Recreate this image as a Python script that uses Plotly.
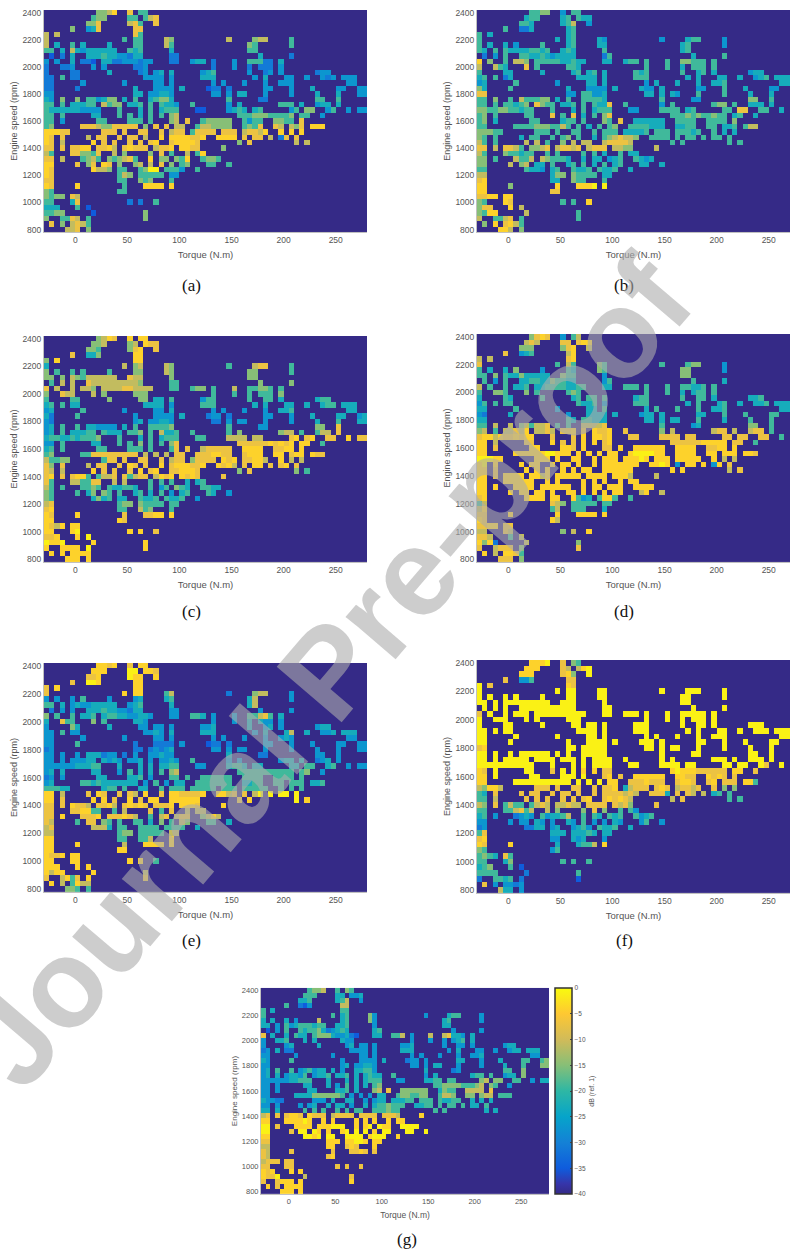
import plotly.graph_objects as go

torque = [-27.5 + 5 * i for i in range(62)]
speed = [2400 - 40 * i for i in range(41)]
level_db = {"1": -35, "2": -31, "3": -27, "4": -23, "5": -19, "6": -15, "7": -11, "8": -7, "9": -4, "0": -1}

# Occupied torque bins for each speed row (top row = 2400 rpm), all other cells sit at -40 dB
occupied = [
"10-13 16 18-19", "9-11 16-17 19-21", "8-10 16-18 21", "5 8-10 17-18", "0 2 17-18",
"0 15 17-18 23-24 35 40-42 47", "0 2 5 7 12 17-18 23-24 39-40 47", "0-1 3 5-6 7-13 16-18 24 39-40",
"1 3 5 8-18 24-25 41 47", "0 2 5 7-9 11-14 15-20 24-25 28-30 32 36 39-43 45",
"0 3-5 9 11 17-19 32 36 39 41-43 45", "0 5-6 12 18-19 21 22 24 30 31-32 39 42-43 45 52-54",
"0-1 3 5-6 19-22 24 30-32 40 42 46-47 50 53-55 57-59", "0-1 7 15 21-22 24 32 34 38 42 45-47 58-59",
"0-1 6 17 21-24 26 31-33 35 42-43 47 51 56-57 60-61", "0-1 17-18 20-24 32-33 35 37-38 42 47 52 56 60-61",
"0-1 3 6 8-13 15 17 20-24 35 41-42 52-53 56", "0-1 3 5-9 11-14 16-18 20 22-25 28 35 37 45-47 49 52-54 56",
"0-10 14 18 20 22-25 29-30 35-38 40-41 47-48 50-51 54-55 58 60-61", "0-1 3 9-10 14 16 18 20 22 24-25 37-47 49-50 53",
"0-1 3 10-11 16-18 20 24-25 27 30-35 38-41 44-47 49", "0-1 7-17 19 21 23 25-26 29-35 38-41 44-45 47-49 51-53",
"0-4 11-13 15 18-19 22 24-26 28-32 34-36 38-42 45 47 49", "0-1 3 8 10-11 14 16-17 19 22 24-30 33-36 38 40-41 43 45 46 48",
"0-1 3 9 11 13 16 18 20-21 24-29 37 39 48 50", "0-1 3 5-8 10-13 15-19 21-24 26-29 34",
"0-1 5-10 13 15 20 22 24 27 29-30", "0-1 3 7-10 12-17 20 22-23 25-27 30-33", "0-1 6 8-9 11-12 14 17-18 20 22 24 26-27 31-32 35",
"0-1 9-12 14-15 18-21 23-26 29", "0-1 14-16 18-22 24-25", "0-1 14 15 18-20 24", "0-1 6 15 19-22 24", "0-1 14-15", "0-3 5-6",
"0-1 5-6 16 18 21", "0-2 6 8", "0-3 9 19", "0 3-6 8 19", "1 3 5-8", "4-6 8",
]

panel_a = [
"6679 8 55", "566 55 578", "668 785 8", "6 348 88", "7 7 85", "7 5 55 76 7 677 5", "7 4 5 4 4 55 75 65 5",
"55 4 74 3444444 545 4 55", "1 2 4 44454433244 22 4 2", "3 3 4 221 4422 333233 22 344 2 3 55522 4",
"2 223 3 3 223 2 3 2 222 3", "2 22 4 23 3 4 4 3 45 3 23 3 233", "22 5 22 3333 3 444 3 4 33 3 323 333",
"22 3 3 33 3 3 3 3 3 333 33", "22 2 4 3333 4 122 2 33 3 4 33 33", "33 44 33443 33 3 44 3 3 4 4 33",
"43 6 6 553466 4 5 45664 5 22 55 5", "55 5 44455 7566 445 5 5443 5 3 4 555 4 344 4",
"54444443333 5 4 5 4555 11 3454 45 35 66 35 3 33", "55 5 44 5 5 4 5 5 67 55566655556 55 3",
"55 3 55 555 5 67 8 566666 5355 6655 8", "56 88876688888 6 8 8 77 5776666 5658 87 768 999",
"99988 888 8 88 8 788 58888 888 78879 9 9", "98 8 7 88 8 88 7 9 9999889 9999 8 88 7 2 8 8",
"98 7 9 8 8 8 8 89 899998 6 8 7 7", "88 8 8899 8897 89888 7889 9988 6", "75 886658 7 6 6 8 5 7 5 9 5",
"88 7 5675 656785 9 66 659 5665", "99 8 68 98 6 67 7 8 6 56 55 5", "98 9776 55 5600 5553 5", "9 8 5 7 6 55555 33",
"8 8 5 5 6 5 6 5 5", "9 8 9 5 999 9 9", "6 5 5 5", "65 66 8 7 5 7", "5 5 4 8 2 2 5", "44 4 5 1", "5 5 6 6 1 6", "6 5 5 8 7 5 6", "8 6 7 8 7 5", "778 6",
]
panel_b = [
"5566 3 55", "455 45 544", "554 457 3", "5 224 45", "5 4 45", "5 4 45 43 3 455 3", "5 4 4 3 5 45 44 45 3",
"54 5 54 4445545 454 5 45", "2 3 5 55445434444 25 4 5", "9 6 5 776 5555 544544 44 455 5 5 66555 5",
"7 754 8 5 554 5 5 4 555 5", "5 44 4 45 4 5 4 5 45 5 45 4 344", "45 5 24 4444 4 555 4 4 44 4 345 444",
"34 5 3 44 4 3 4 4 4 445 44", "6 4 5 4 3333 4 433 4 33 5 4 33 33", "8 8 33 5533 44 4 44 3 5 5 44",
"55 6 5 755566 4 5 55554 5 33 66 5", "55 5 55456 8655 445 5 5448 5 3 5 566 5 444 4",
"66556655455 5 4 5 4555 33 5555 45 55 88 55 4 44", "56 5 55 8 5 8 4 5 68 55565655655 45 4",
"56 4 55 455 5 65 8 444444 5555 5555 6", "55 55556665575 5 4 5 56 5 5554444 4555 54 455 775",
"66655 555 5 55 5 555 44445 555 55545 5 4", "65 5 4 55 5 56 5 4 5678776 5555 5 55 5 5 5 5",
"75 5 7 7 5 6 7 77 788887 5 5 5 5", "88 7 8875 6678 78878 7888 7766 7", "75 655455 5 5 5 5 4 5 4 4 5 5",
"66 5 7557 765554 4 44 345 5434", "66 7 67 44 5 45 5 4 5 45 44 4", "55 5443 45 5445 5445 4", "7 7 4 6 6 65555 44",
"8 9 4 4 6 5 5 5 5", "9 9 6 9 999 0 0", "9 9 8 8", "88 99 9 9 9 7 9", "6 5 9 8 5 5 9", "68 8 9 7", "6 5 9 9 7 5", "7 5 5 7 8 5 5", "6 9 8 9 7 5", "997 6",
]
panel_c = [
"6798 9 99", "667 67 988", "665 689 8", "8 446 99", "6 9 99", "4 7 67 76 5 788 5", "6 5 5 5 5 66 76 66 5",
"66 6 76 5777777 877 6 66", "5 7 7 87777777776 55 6 6", "8 7 7 776 7777 887777 55 566 5 7 55665 5",
"6 877 7 6 666 5 5 5 555 6", "5 55 6 66 4 4 5 3 55 5 55 4 455", "45 5 44 4444 3 555 4 4 44 4 455 444",
"34 5 3 33 4 3 3 3 3 445 44", "4 2 5 3 3333 4 233 2 33 3 4 44 34", "32 34 33443 22 3 33 3 3 4 5 44",
"34 5 5 443333 4 5 55556 5 33 66 8", "34 5 44455 5444 556 5 7445 5 5 6 677 5 577 8",
"45544545556 5 4 5 4555 55 7777 77 89 89 88 9 88", "33 5 44 5 5 6 5 5 68 88888898989 99 5",
"45 5 55 555 5 58 8 788888 9999 8899 9", "56 55888888888 7 7 7 88 8889988 8999 99 899 988",
"75566 588 8 88 8 788 68888 989 88997 9 7", "86 8 7 88 8 98 8 9 8999889 9897 8 99 8 8 9 8",
"87 7 9 8 8 8 9 89 889998 6 8 6 5", "89 8 8995 5778 85788 7989 9898 8", "85 775588 7 7 5 5 5 4 4 5 5",
"75 5 5565 544554 5 35 654 5544", "65 5 46 65 5 45 4 5 3 45 54 3", "65 4645 44 5445 5445 3", "7 8 5 6 6 65555 55",
"8 9 5 5 7 5 6 5 5", "9 8 9 8 889 9 9", "9 9 9 8", "98 79 9 9 9 9 9", "9 9 9 0 9 9 8", "88 9 9 0", "09 9 0 9 9", "9 9 9 9 9 0 9", "9 9 9 9 9 9", "999 9",
]
panel_d = [
"6898 3 57", "787 88 899", "666 689 7", "8 345 79", "7 7 89", "8 5 75 65 5 566 3", "5 4 4 6 3 54 65 66 3",
"55 6 54 4644444 655 3 66", "5 3 5 44554465544 35 5 4", "7 5 5 445 4455 554455 44 555 5 5 55445 5",
"5 665 6 5 565 5 5 4 455 5", "4 54 5 45 5 5 5 4 55 5 55 4 445", "35 5 55 5445 3 555 4 5 45 4 445 444",
"44 5 3 44 5 4 5 5 5 445 44", "3 2 4 3 4444 4 344 4 44 5 5 55 45", "44 5 4 55444 44 4 44 5 4 5 5 44",
"55 7 7 675778 5 5 77778 5 34 66 5", "67 5 77879 7787 889 8 9889 8 6 7 788 7 788 5",
"89979889899 8 8 9 9989 88 8888 88 88 88 88 5 55", "99 7 88 9 8 8 9 9 89 88888899999 88 5",
"99 8 99 998 9 88 9 999999 9999 8899 9", "99 99999900999 9 9 9 99 9000099 9999 99 999 998",
"00099 999 9 99 9 999 99909 999 99999 9 7", "90 9 9 99 9 99 9 9 9999999 9909 3 99 9 3 9 8",
"99 8 9 9 9 9 9 99 999999 9 9 7 8", "99 8 9999 9979 99999 9999 9997 7", "99 999999 9 9 9 9 9 9 9 9 9",
"99 9 9999 999999 9 99 999 9999", "99 9 99 99 9 99 9 9 9 99 79 7", "89 9999 99 9534 5995 5", "5 7 8 7 6 55555 55",
"7 9 5 7 5 5 5 4 5", "8 8 9 9 999 9 9", "9 8 9 7", "88 99 8 8 9 8 9", "7 7 8 7 6 7 9", "88 7 5 7", "9 6 9 2 7 6", "8 7 8 8 8 6 8", "9 7 9 9 8 5", "888 6",
]
panel_e = [
"9989 8 99", "999 00 998", "889 099 9", "8 009 99", "8 9 99", "8 9 99 57 2 677 3", "3 3 3 5 3 34 45 47 3",
"55 4 34 3344444 345 4 47", "2 3 3 44454433244 33 3 3", "6 5 5 445 4554 433443 33 554 3 3 55785 4",
"4 855 6 5 443 3 3 4 433 3", "3 64 4 33 3 3 3 3 34 4 34 3 344", "33 5 33 3343 4 444 3 4 47 4 334 444",
"33 3 3 33 3 3 3 3 3 343 33", "3 3 5 2 2222 3 122 2 33 3 3 33 33", "23 22 23234 33 3 33 3 3 3 3 33",
"33 3 3 444233 2 3 33433 4 22 33 3", "33 3 33344 4343 334 3 3343 5 3 3 344 4 234 3",
"33333344455 4 4 4 4455 33 4554 44 44 55 45 3 33", "34 4 44 3 5 4 4 5 67 55555555555 56 3",
"23 3 44 445 3 55 5 555555 5555 5555 5", "34 55454444444 3 5 3 44 5555555 4455 55 555 445",
"55544 455 5 44 5 555 55555 555 55555 5 5", "99 7 8 9 8 88 7 9 8998888 999 7 88 7 0 0 0",
"99 8 9 9 8 9 8 99 999999 8 9 0 9", "88 8 9887 8897 89898 8889 9998 9", "88 889955 5 7 8 5 8 7 7 7 5",
"88 9 8889 888987 5 7 8 7 8 86 7 9 7 7", "87 5 88 65 5 55 4 6 5 76 55 4", "78 7774 55 5555 5555 4", "7 7 5 6 6 55555 77",
"9 9 5 5 5 5 7 9", "9 9 9 7 9 9 9 9", "9 9 9 9", "98 89 9 9 9 5 4", "9 9 9 9 9 9 5", "99 9 9 9", "9 7 9 9 9 7", "8 7 9 5 8 9 8", "9 7 5 9 7 7", "665 5",
]
panel_f = [
"9990 8 65", "999 87 790", "999 896 0", "8 335 88", "0 8 98", "0 0 00 00 0 000 0", "0 0 0 0 0 00 00 00 0",
"00 0 00 0000000 000 0 00", "0 0 0 00000000000 00 0 0", "8 0 0 000 0000 000000 00 000 0 0 00000 0",
"0 000 0 0 000 0 0 0 000 0", "0 00 0 00 0 0 0 0 00 0 00 0 000", "00 0 00 0000 0 000 0 0 00 0 000 000",
"00 0 0 00 0 0 0 0 0 000 00", "0 0 0 0 0000 0 000 0 00 0 0 00 00", "89 00 00000 00 0 00 0 0 0 0 00",
"00 0 0 000000 0 0 00000 0 00 00 0", "00 0 00000 0000 000 0 0000 0 0 0 000 0 000 0",
"00000000000 0 0 0 0000 00 0000 00 00 00 08 0 00", "98 0 00 8 0 0 9 9 88 90999888888 99 8",
"99 0 00 000 0 89 8 999999 9988 9898 8", "99 00000000000 0 0 0 99 8889888 8998 89 888 995",
"76997 888 8 88 8 889 47888 898 78878 8 6", "54 8 8 88 8 88 8 8 8888787 8884 8 87 7 4 5 5",
"55 7 8 8 8 8 8 89 898987 7 8 5 5", "76 8 5755 5787 77877 8888 8786 8", "55 557857 7 6 6 8 6 5 5 3 3",
"45 3 2343 534457 5 54 545 5345", "33 3 33 43 3 43 5 3 3 43 35 3", "23 2 2443 43 4535 4454 3", "5 8 4 4 4 44454 44",
"8 9 3 3 4 3 4 3 3", "9 8 9 4 455 7 9", "6 5 3 5", "56 54 8 5 5 5 5", "5 5 4 6 5 5 5", "45 6 5 1", "5 5 5 5 2 5", "2 5 5 4 5 2 1", "8 3 3 3 2 3", "744 3",
]
panel_g = [
"5667 5 65", "555 44 334", "445 457 3", "5 213 77", "5 4 55", "5 5 45 63 3 455 3", "4 4 4 3 7 45 63 45 3",
"44 3 53 4555455 445 3 44", "1 3 5 54556423454 45 3 3", "8 4 4 544 5666 433421 44 557 3 7 78443 4",
"3 445 4 4 433 3 3 3 345 4", "3 34 4 34 3 3 3 3 34 3 33 3 344", "23 4 22 3333 3 444 3 4 33 3 344 444",
"33 3 3 33 3 3 3 3 3 334 33", "4 3 5 3 3333 4 233 3 44 3 4 55 56", "33 34 33443 33 3 44 3 3 4 5 66",
"34 5 5 345344 4 3 44553 4 23 55 6", "34 4 34435 3445 445 4 4544 5 3 4 455 5 344 6",
"33333344555 4 4 4 4555 33 4455 55 67 66 55 3 44", "33 3 44 4 3 5 4 4 56 55666655567 65 3",
"33 3 44 445 4 67 8 666666 4655 7777 8", "33 44446666665 3 3 3 44 5665566 5776 66 677 555",
"43322 333 4 44 3 344 44455 555 54455 4 4", "33 3 3 34 4 44 3 4 4556555 4455 5 55 5 4 4 5",
"44 4 5 5 5 5 5 55 555655 5 5 4 4", "78 8 8998 9888 78888 8888 8887 9", "99 99990 9 9 9 9 9 9 9 9 9",
"00 8 9999 999000 9 90 09 9 0000", "00 8 00 09 9 90 0 0 9 00 00 0", "99 0090 00 0000 9000 9", "8 8 9 9 9 99009 99",
"7 7 9 9 8 9 8 9 9", "8 7 8 8 889 8 8", "8 7 8 9", "78 88 8 8 8 8 9", "8 8 8 8 8 8 8", "98 9 9 9", "98 8 0 7 8", "8 8 9 9 9 9 9", "9 8 9 9 9 9", "999 9",
]

parula = [[0.0, "rgb(53,42,135)"], [0.05, "rgb(54,53,170)"], [0.125, "rgb(15,92,221)"], [0.25, "rgb(20,129,214)"],
          [0.375, "rgb(6,164,202)"], [0.5, "rgb(46,183,164)"], [0.625, "rgb(135,191,119)"], [0.75, "rgb(209,187,89)"],
          [0.875, "rgb(254,200,50)"], [1.0, "rgb(249,251,14)"]]


def grid(rows):
    out = []
    for cols, digits in zip(occupied, rows):
        line = [-40] * 62
        vals = digits.replace(" ", "")
        pos = 0
        for tok in cols.split():
            a, b = (tok.split("-") + [tok])[:2]
            for c in range(int(a), int(b) + 1):
                d = vals[min(pos, len(vals) - 1)]
                line[c] = level_db[d]
                pos += 1
        out.append(line)
    return out


W, H = 790, 1256
panels = [
    ("a", panel_a, 44, 367, 8, 231, 280, 191, 284),
    ("b", panel_b, 477, 790, 8, 231, 270.4, 624, 284),
    ("c", panel_c, 44, 367, 335, 562, 280, 191, 611),
    ("d", panel_d, 477, 790, 333, 562, 270.4, 624, 611),
    ("e", panel_e, 44, 367, 663, 893, 280, 191, 941),
    ("f", panel_f, 477, 790, 660, 894, 270.4, 624, 941),
    ("g", panel_g, 261, 549, 989, 1196, 280, 407, 1241),
]
fig = go.Figure()
ann = []
layout = {}
for i, (name, rows, l, r, t, b, xmax, lx, ly) in enumerate(panels):
    n = "" if i == 0 else str(i + 1)
    small = name == "g"
    tf = 7.5 if small else 8.5
    trace = go.Heatmap(x=torque, y=speed, z=grid(rows), zmin=-40, zmax=0, colorscale=parula,
                       xaxis="x" + n, yaxis="y" + n, showscale=small,
                       colorbar=dict(x=555 / W, xanchor="left", xpad=0, ypad=0, y=1 - 1196 / H, yanchor="bottom",
                                     len=207 / H, lenmode="fraction", thickness=17, thicknessmode="pixels",
                                     tickvals=list(range(-40, 1, 5)), ticks="inside", ticklen=2, tickcolor="#444",
                                     tickfont=dict(size=6.5, color="#555", family="Liberation Sans"),
                                     outlinecolor="#333", outlinewidth=1.5,
                                     title=dict(text="dB (ref. 1)", side="right", font=dict(size=7, color="#555", family="Liberation Sans"))))
    fig.add_trace(trace)
    layout["xaxis" + n] = dict(domain=[l / W, r / W], range=[-30, xmax], anchor="y" + n, tickvals=[0, 50, 100, 150, 200, 250],
                               tickfont=dict(size=tf, color="#555"), ticks="", showgrid=False, zeroline=False,
                               showline=True, linecolor="rgba(150,150,150,0.6)", linewidth=1,
                               title=dict(text="Torque (N.m)", standoff=6, font=dict(size=tf + 1, color="#555")))
    layout["yaxis" + n] = dict(domain=[1 - b / H, 1 - t / H], range=[780, 2420], anchor="x" + n,
                               tickvals=list(range(800, 2401, 200)), tickfont=dict(size=tf, color="#555"), ticks="",
                               showgrid=False, zeroline=False, showline=True, linecolor="rgba(150,150,150,0.6)", linewidth=1,
                               title=dict(text="Engine speed (rpm)", standoff=3, font=dict(size=tf + 0.5, color="#555")))
    ann.append(dict(text="(%s)" % name, x=lx / W, y=1 - ly / H, xref="paper", yref="paper", showarrow=False,
                    xanchor="center", yanchor="middle", font=dict(family="Liberation Serif", size=17, color="#111")))

ann.append(dict(text="<b>Journal Pre-proof</b>", x=328 / W, y=1 - 672 / H, xref="paper", yref="paper", showarrow=False, textangle=-49.5,
                xanchor="center", yanchor="middle",
                font=dict(family="Liberation Sans", size=124, color="rgba(172,172,172,0.6)")))
fig.update_layout(width=W, height=H, autosize=False, margin=dict(l=0, r=0, t=0, b=0), paper_bgcolor="white", plot_bgcolor="white",
                  font=dict(family="Liberation Sans"), annotations=ann, **layout)
fig.write_html("out.html", config={"displayModeBar": False}, post_script="document.body.style.margin='0';")
